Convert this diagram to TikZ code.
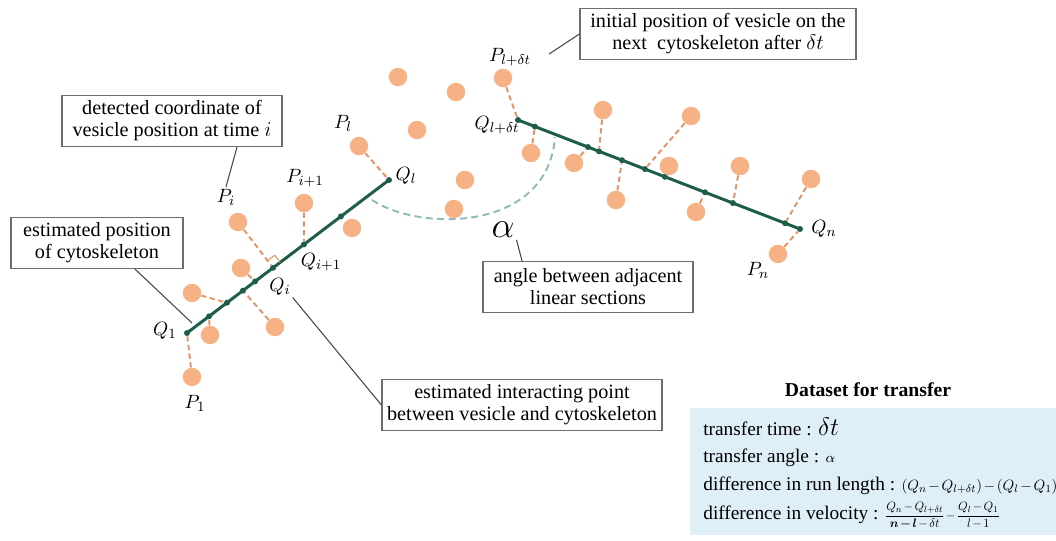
\documentclass[tikz,border=0pt]{standalone}
\usepackage{amsmath}
\usepackage{fontspec}
\setmainfont{Liberation Serif}
\usepackage{tikz}
\usetikzlibrary{calc,positioning}
\definecolor{VesicleOrange}{RGB}{246,178,132}
\definecolor{TetherOrange}{RGB}{230,146,100}
\definecolor{SkeletonGreen}{RGB}{30,94,72}
\definecolor{AngleTeal}{RGB}{142,186,184}
\definecolor{PanelBlue}{RGB}{222,239,247}
\definecolor{BoxGray}{RGB}{110,110,110}
\definecolor{LeaderGray}{RGB}{70,70,70}

\begin{document}
\begin{tikzpicture}[
    x=0.02cm, y=-0.02cm,
    vesicle/.style={circle, fill=VesicleOrange, minimum size=0.37cm, inner sep=0pt},
    dot/.style={circle, fill=SkeletonGreen, minimum size=0.12cm, inner sep=0pt},
    skeleton/.style={SkeletonGreen, line width=1.7pt},
    tether/.style={TetherOrange, line width=1.1pt, dash pattern=on 3pt off 2pt},
    lbl/.style={inner sep=1pt, font=\fontsize{11}{13}\selectfont},
    note/.style={draw=BoxGray, line width=0.7pt, align=center, minimum height=1.02cm, inner sep=2pt, font=\fontsize{11.5}{12.5}\selectfont},
    leader/.style={LeaderGray, line width=0.6pt},
    row/.style={anchor=base west, inner sep=0pt, font=\fontsize{11}{13}\selectfont}
]
\useasboundingbox (0,0) rectangle (1056,541);

% first linear section
\node[dot] (Q1) at (187,333) {};
\node[dot] (Ql) at (389,180) {};
\node[dot] (Qi) at ($(Q1)!0.426!(Ql)$) {};
\node[dot] (Qip) at ($(Q1)!0.579!(Ql)$) {};
\foreach \t [count=\k] in {0.109,0.198,0.277,0.337,0.762}
    \node[dot] (a\k) at ($(Q1)!\t!(Ql)$) {};
\draw[skeleton] (Q1.center) -- (Ql.center);

% second linear section
\node[dot] (Qlt) at (518,120) {};
\node[dot] (Qn) at (800,229) {};
\foreach \t [count=\k] in {0.060,0.248,0.287,0.369,0.450,0.521,0.663,0.762,0.947}
    \node[dot] (b\k) at ($(Qlt)!\t!(Qn)$) {};
\draw[skeleton] (Qlt.center) -- (Qn.center);

% vesicle positions and their interacting points
\foreach \pos/\tgt [count=\k] in {{210,335}/a1, {192,293}/a2, {275,327}/a3, {241,268}/a4,
    {531,153}/b1, {574,163}/b2, {603,110}/b3, {616,200}/b4, {691,116}/b5,
    {696,212}/b7, {740,166}/b8, {811,179}/b9} {
    \node[vesicle] (v\k) at (\pos) {};
    \draw[tether] (v\k) -- (\tgt);
}
\foreach \pos [count=\k] in {{352,228}, {398,77}, {456,92}, {417,130}, {465,180}, {454,209}, {669,166}}
    \node[vesicle] (w\k) at (\pos) {};

\node[vesicle] (P1) at (192,377) {};
\node[vesicle] (Pi) at (238,222) {};
\node[vesicle] (Pip) at (304,203) {};
\node[vesicle] (Pl) at (359,146) {};
\node[vesicle] (Plt) at (503,78) {};
\node[vesicle] (Pn) at (778,254) {};
\draw[tether] (P1) -- (Q1);
\draw[tether] (Pi) -- (Qi);
\draw[tether] (Pip) -- (Qip);
\draw[tether] (Pl) -- (Ql);
\draw[tether] (Plt) -- (Qlt);
\draw[tether] (Pn) -- (Qn);

% right angle at Q_i
\coordinate (raA) at ($(Qi)!0.18cm!(Pi)$);
\coordinate (raB) at ($(Qi)!0.18cm!(Ql)$);
\draw[TetherOrange, line width=0.6pt] (raA) -- ($(raA)+(raB)-(Qi)$) -- (raB);

% angle between the sections
\coordinate (arcA) at (372,200);
\coordinate (arcB) at (555,137);
\draw[AngleTeal, line width=1.1pt, dash pattern=on 4pt off 2.5pt] (arcA) .. controls (420,232) and (548,232) .. (arcB);
\node[inner sep=1pt, font=\fontsize{20}{22}\selectfont] (alpha) at (503,230) {$\alpha$};

% point labels
\node[lbl] (Q1lbl) at (165,331) {$Q_1$};
\node[lbl] (P1lbl) at (195,403) {$P_1$};
\node[lbl] (Qilbl) at (280,287) {$Q_i$};
\node[lbl] (Qiplbl) at (321,262) {$Q_{i+1}$};
\node[lbl] (Pilbl) at (226,197) {$P_i$};
\node[lbl] (Piplbl) at (305,178) {$P_{i+1}$};
\node[lbl] (Pllbl) at (343,123) {$P_l$};
\node[lbl] (Qllbl) at (406,176) {$Q_l$};
\node[lbl] (Qltlbl) at (497,125) {$Q_{l+\delta t}$};
\node[lbl] (Pltlbl) at (510,57) {$P_{l+\delta t}$};
\node[lbl] (Qnlbl) at (824,229) {$Q_n$};
\node[lbl] (Pnlbl) at (758,270) {$P_n$};

% notes
\node[note, minimum width=4.4cm] (detected) at (172,121) {detected coordinate of\\vesicle position at time $i$};
\node[note, minimum width=3.44cm] (estpos) at (97,243) {estimated position\\of cytoskeleton};
\node[note, minimum width=5.6cm] (interact) at (522,405) {estimated interacting point\\between vesicle and cytoskeleton};
\node[note, minimum width=4.2cm] (anglenote) at (588,287) {angle between adjacent\\linear sections};
\node[note, minimum width=5.52cm] (initial) at (718,34) {initial position of vesicle on the\\next\ \ cytoskeleton after $\delta t$};

\coordinate (estposend) at (192,323);
\draw[leader] ($(detected.south)+(65,0)$) -- (Pilbl.north);
\draw[leader] ($(estpos.south)+(38,0)$) -- (estposend);
\draw[leader] (Qilbl.south east) -- (interact.west);
\draw[leader] (alpha.south east) -- ($(anglenote.north)+(-66,0)$);
\draw[leader] ($(Pltlbl.east)+(16,-3)$) -- (initial.west);

% dataset panel
\fill[PanelBlue] (690,408) rectangle (1056,535);
\node[font=\bfseries\fontsize{11.2}{13}\selectfont] (title) at (868,390) {Dataset for transfer};
\node[row] (r1) at (703,435) {transfer time : {\fontsize{14}{16}\selectfont$\delta t$}};
\node[row] (r2) at (703,462) {transfer angle : {\fontsize{8.5}{10}\selectfont$\alpha$}};
\node[row] (r3) at (703,490) {difference in run length : \resizebox{3.12cm}{!}{$\medmuskip=2mu (Q_n - Q_{l+\delta t}) - (Q_l - Q_1)$}};
\node[row] (r4) at (703,519) {difference in velocity : \resizebox{2.3cm}{!}{$\displaystyle\medmuskip=2mu \frac{Q_n - Q_{l+\delta t}}{\boldsymbol{n-l}-\delta t} - \frac{Q_l - Q_1}{l-1}$}};
\end{tikzpicture}
\end{document}
